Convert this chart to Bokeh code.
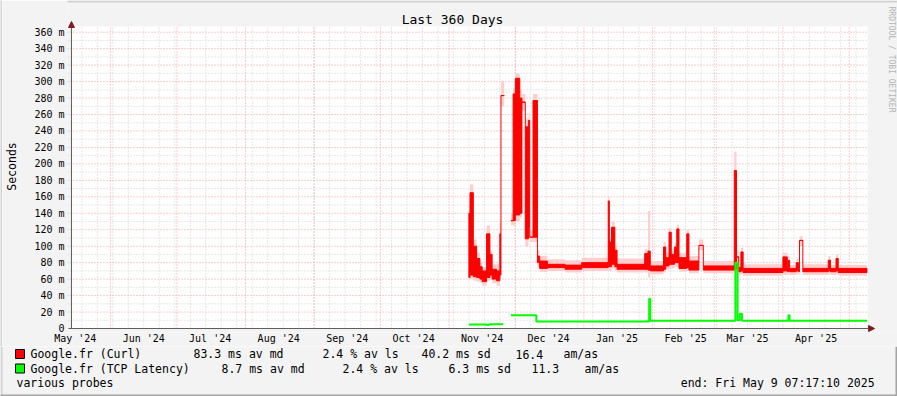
import numpy as np
import pandas as pd
from bokeh.plotting import figure
from bokeh.layouts import column, row
from bokeh.models import (Range1d, FixedTicker, Label, BoxAnnotation, Arrow, NormalHead,
                          DatetimeTickFormatter)
from bokeh.embed import file_html
from bokeh.resources import INLINE

FONT = "DejaVu Sans Mono"

# ---------------- data ----------------
graph_start = "2024-05-14 07:17:10"
graph_end = "2025-05-09 07:17:10"

y_ticks = list(range(0, 361, 20))
y_tick_labels = ["0"] + [f"{v} m" for v in range(20, 361, 20)]

# Google.fr (Curl): segment boundaries, median envelope (lo/hi) and smoke range (ms)
curl_t = ["2024-11-10 00:00", "2024-11-10 12:00", "2024-11-12 00:00", "2024-11-13 12:00",
          "2024-11-15 00:00", "2024-11-16 00:00", "2024-11-18 00:00", "2024-11-19 12:00",
          "2024-11-20 12:00", "2024-11-22 12:00", "2024-11-24 00:00", "2024-11-24 12:00",
          "2024-11-26 00:00", "2024-11-29 00:00", "2024-11-30 00:00", "2024-12-01 00:00",
          "2024-12-03 00:00", "2024-12-04 00:00", "2024-12-05 12:00", "2024-12-07 00:00",
          "2024-12-07 12:00", "2024-12-09 00:00", "2024-12-11 00:00", "2024-12-12 00:00",
          "2024-12-15 12:00", "2024-12-23 12:00", "2024-12-31 00:00", "2025-01-12 00:00",
          "2025-01-12 12:00", "2025-01-13 12:00", "2025-01-15 00:00", "2025-01-16 00:00",
          "2025-01-28 12:00", "2025-01-30 00:00", "2025-01-31 00:00", "2025-02-06 00:00",
          "2025-02-07 00:00", "2025-02-08 12:00", "2025-02-09 12:00", "2025-02-11 00:00",
          "2025-02-12 00:00", "2025-02-13 00:00", "2025-02-16 12:00", "2025-02-17 12:00",
          "2025-02-22 00:00", "2025-02-24 00:00", "2025-03-10 00:00", "2025-03-11 00:00",
          "2025-03-12 00:00", "2025-03-13 00:00", "2025-03-14 00:00", "2025-04-01 00:00",
          "2025-04-03 00:00", "2025-04-03 12:00", "2025-04-04 00:00", "2025-04-07 00:00",
          "2025-04-08 00:00", "2025-04-08 12:00", "2025-04-10 00:00", "2025-04-21 12:00",
          "2025-04-22 12:00", "2025-04-25 00:00", "2025-04-26 00:00", "2025-05-09 00:00"]
nan = float("nan")
curl_lo = [62, 65, 63, 62, 60, 57, 62, 65, 60, 58, 65, 283, nan, 131, 131, 138, 140, 275,
           109, 123, 111, 111, 80, 73, 74, 72, 74, 75, 75, 78, 75, 72, 72, 71, 70, 72, 76,
           78, 78, 80, 80, 73, 74, 71, 101, 71, 72, 87, 69, 70, 68, 70, 69, 70, 69, 70, 69,
           107, 69, 70, 69, 70, 68]
curl_hi = [140, 165, 100, 85, 75, 70, 115, 90, 72, 70, 115, 283, nan, 131, 285, 304, 280, 275,
           245, 253, 111, 277, 88, 82, 78, 77, 80, 155, 105, 123, 95, 78, 91, 94, 76, 99, 86,
           117, 90, 99, 121, 86, 115, 82, 101, 76, 192, 87, 74, 93, 73, 87, 73, 83, 73, 80, 73,
           107, 73, 83, 73, 85, 73]
smoke_lo = [58, 60, 58, 57, 55, 52, 58, 60, 55, 52, 60, 270, nan, 125, 125, 130, 135, 265,
            100, 115, 105, 105, 75, 69, 70, 68, 70, 70, 70, 72, 70, 68, 68, 62, 66, 68, 72,
            72, 73, 75, 75, 69, 70, 67, 95, 67, 68, 80, 65, 66, 64, 65, 65, 66, 65, 66, 65,
            100, 65, 66, 65, 66, 64]
smoke_hi = [150, 175, 108, 92, 80, 75, 125, 95, 78, 78, 130, 300, nan, 140, 292, 310, 290, 285,
            255, 262, 120, 285, 95, 88, 84, 83, 86, 160, 110, 130, 100, 85, 96, 143, 82, 105, 92,
            122, 96, 104, 126, 92, 120, 88, 108, 82, 215, 95, 79, 98, 78, 92, 77, 88, 77, 84, 77,
            112, 78, 88, 77, 90, 77]

# Google.fr (TCP Latency): segment boundaries and median (ms)
tcp_t = ["2024-11-10 00:00", "2024-11-18 00:00", "2024-11-19 00:00", "2024-11-25 12:00",
         "2024-11-29 00:00", "2024-12-10 12:00", "2025-01-30 12:00", "2025-01-31 00:00",
         "2025-03-10 12:00", "2025-03-11 12:00", "2025-03-12 12:00", "2025-03-13 12:00",
         "2025-04-03 12:00", "2025-04-04 00:00", "2025-05-09 00:00"]
tcp_ms = [5.0, 4.2, 5.2, nan, 16.0, 8.5, 36.0, 9.5, 80.0, 10.0, 18.0, 9.5, 16.0, 9.5]

legend_names = ["Google.fr (Curl)", "Google.fr (TCP Latency)"]
legend_colors = ["#FF0000", "#00FF00"]
legend_median = ["83.3 ms av md", "8.7 ms av md"]
legend_loss = ["2.4 % av ls", "2.4 % av ls"]
legend_sd = ["40.2 ms sd", "6.3 ms sd"]
legend_amas = ["16.4", "11.3"]
legend_unit = ["am/as", "am/as"]
title_text = "Last 360 Days"
y_label = "Seconds"
watermark = "RRDTOOL / TOBI OETIKER"
footer_left = "various probes"
footer_right = "end: Fri May  9 07:17:10 2025"


def ms(v):
    single = isinstance(v, str)
    idx = pd.to_datetime(pd.Index([v] if single else v))
    out = ((idx - pd.Timestamp(0)) / pd.Timedelta(milliseconds=1)).to_numpy(dtype=float)
    return float(out[0]) if single else out


# ---------------- layout ----------------
W, H1, H2, EDGE = 897, 346, 50, 2
PL, PR, PT, PB = 67, 867, 26, 328      # plot area in canvas pixels
FL, FB = 63, 332                        # frame left / bottom (frame reaches top & right edge)
K = (PB - 31.7) / 360.0                 # px per ms
T0, T1 = ms(graph_start), ms(graph_end)
MSPX = (T1 - T0) / (PR - PL)            # ms of time per px
BG, LIGHT, DARK = "#F3F3F3", "#D2D2D2", "#A4A4A4"


def xd(px):
    return T0 + (px - PL) * MSPX


def yd(py):
    return (PB - py) / K


def sx(px):
    return px - FL


def sy(py):
    return FB - py


p = figure(width=W - EDGE, height=H1, x_axis_type="datetime",
           x_range=Range1d(xd(FL), xd(W)), y_range=Range1d(yd(FB), yd(0)),
           output_backend="svg", toolbar_location=None,
           min_border_left=FL - EDGE, min_border_right=0, min_border_top=0,
           min_border_bottom=H1 - FB,
           background_fill_color=BG, border_fill_color=BG, outline_line_color=None)
p.frame_align = False
p.title.visible = False
p.xgrid.visible = False
p.ygrid.visible = False

# white plot area
p.quad(left=[T0], right=[T1], bottom=[0], top=[yd(PT)], fill_color="white", line_color=None)

# grid lines
weeks = ms(pd.date_range("2024-05-19", "2025-05-09", freq="7D"))
months = ms(pd.date_range("2024-06-01", "2025-05-01", freq="MS"))
mid_months = ms(pd.date_range("2024-05-01", "2025-04-01", freq="MS") + pd.Timedelta(days=15))
minor_col, major_col = "#D0D0D0", "#EFA0A0"
minor_y = list(range(10, 361, 20))
p.segment(x0=weeks, y0=0, x1=weeks, y1=yd(PT), line_color=minor_col, line_dash="1 2")
p.segment(x0=xd(FL), y0=minor_y, x1=T1, y1=minor_y, line_color=minor_col, line_dash="1 2")
p.segment(x0=months, y0=0, x1=months, y1=yd(PT), line_color=major_col, line_dash="1 2")
p.segment(x0=xd(FL), y0=y_ticks[1:], x1=T1, y1=y_ticks[1:], line_color=major_col,
          line_dash="1 2")

# axes (labels only; lines drawn with arrows)
p.yaxis.ticker = FixedTicker(ticks=y_ticks)
p.yaxis.major_label_overrides = dict(zip(y_ticks, y_tick_labels))
p.yaxis.bounds = (0, yd(PT))
p.yaxis.axis_label = y_label
p.yaxis.axis_label_text_font = FONT
p.yaxis.axis_label_text_font_size = "11.5px"
p.yaxis.axis_label_text_font_style = "normal"
p.yaxis.axis_label_text_color = "#000000"
p.yaxis.axis_label_standoff = 12
p.yaxis.major_label_standoff = 3
p.xaxis.ticker = FixedTicker(ticks=list(mid_months))
fmt = "%b '%y"
p.xaxis.formatter = DatetimeTickFormatter(milliseconds=fmt, seconds=fmt, minsec=fmt, minutes=fmt,
                                          hourmin=fmt, hours=fmt, days=fmt, months=fmt, years=fmt)
p.xaxis.major_label_standoff = 0
for ax in (p.xaxis, p.yaxis):
    ax.axis_line_color = None
    ax.major_tick_line_color = None
    ax.minor_tick_line_color = None
    ax.major_tick_out = 0
    ax.major_tick_in = 0
    ax.major_label_text_font = FONT
    ax.major_label_text_font_size = "10px"
    ax.major_label_text_color = "#000000"

# smoke + curl median envelope
t0 = ms(curl_t[:-1])
t1 = ms(curl_t[1:])
p.quad(left=t0, right=t1, bottom=smoke_lo, top=smoke_hi, fill_color="#FFCFCF", line_color=None)
p.quad(left=t0, right=t1, bottom=curl_lo, top=curl_hi,
       fill_color="#FF0000", line_color="#FF0000", line_width=1)
cx, cy0, cy1 = [], [], []
for i in range(len(curl_lo) - 1):
    a_lo, a_hi, b_lo, b_hi = curl_lo[i], curl_hi[i], curl_lo[i + 1], curl_hi[i + 1]
    if np.isnan(a_lo) or np.isnan(b_lo):
        continue
    if a_hi < b_lo:
        cx.append(t1[i]); cy0.append(a_hi); cy1.append(b_lo)
    elif a_lo > b_hi:
        cx.append(t1[i]); cy0.append(b_hi); cy1.append(a_lo)
p.segment(x0=cx, y0=cy0, x1=cx, y1=cy1, line_color="#FF0000", line_width=1)

# tcp latency step line
g0 = ms(tcp_t[:-1])
g1 = ms(tcp_t[1:])
runs_x, runs_y, cur_x, cur_y = [], [], [], []
for a, b, v in zip(g0, g1, tcp_ms):
    if np.isnan(v):
        if cur_x:
            runs_x.append(cur_x); runs_y.append(cur_y)
        cur_x, cur_y = [], []
        continue
    cur_x += [a, b]
    cur_y += [v, v]
if cur_x:
    runs_x.append(cur_x); runs_y.append(cur_y)
p.multi_line(xs=runs_x, ys=runs_y, line_color="#00FF00", line_width=2)

# axis lines with arrow heads
axis_col, arrow_col = "#5E5E5E", "#7F1C1C"
p.add_layout(Arrow(x_start=T0, y_start=yd(PB), x_end=T0, y_end=yd(21),
                   line_color=axis_col, line_width=1,
                   end=NormalHead(size=6, fill_color=arrow_col, line_color=arrow_col)))
p.add_layout(Arrow(x_start=xd(PL - 3), y_start=0, x_end=xd(874), y_end=0,
                   line_color=axis_col, line_width=1,
                   end=NormalHead(size=6, fill_color=arrow_col, line_color=arrow_col)))


def label(fig, text, x, y, size="11.5px", align="left", angle=0.0, color="#000000"):
    fig.add_layout(Label(x=x, y=y, x_units="screen", y_units="screen", text=text,
                         text_font=FONT, text_font_size=size, text_align=align,
                         text_baseline="middle", angle=angle, text_color=color))


def box(fig, l, r, b, t, color, line=None):
    fig.add_layout(BoxAnnotation(left=l, right=r, bottom=b, top=t,
                                 left_units="screen", right_units="screen",
                                 top_units="screen", bottom_units="screen",
                                 fill_color=color, fill_alpha=1.0,
                                 line_color=line, line_width=1, line_alpha=1.0))


label(p, title_text, sx(448), sy(19), size="13px", align="center")
label(p, watermark, sx(887), sy(59), size="8px", align="center", angle=-np.pi / 2,
      color="#B4B4B4")
box(p, sx(0), sx(W), sy(EDGE), sy(0), LIGHT)
box(p, sx(W - EDGE), sx(W), sy(H1), sy(EDGE), DARK)

# thin left edge strip
e = figure(width=EDGE, height=H1, x_range=Range1d(0, 1), y_range=Range1d(0, 1),
           output_backend="svg", toolbar_location=None, min_border=0,
           x_axis_location=None, y_axis_location=None,
           background_fill_color=LIGHT, border_fill_color=LIGHT, outline_line_color=None)
e.frame_align = False
e.xgrid.visible = False
e.ygrid.visible = False

# ---------------- legend area ----------------
q = figure(width=W, height=H2, x_range=Range1d(0, W), y_range=Range1d(0, H2),
           output_backend="svg", toolbar_location=None, min_border=0,
           x_axis_location=None, y_axis_location=None,
           background_fill_color=BG, border_fill_color=BG, outline_line_color=None)
q.frame_align = False
q.xgrid.visible = False
q.ygrid.visible = False


def qy(py):
    return H1 + H2 - py


rows_y = [353.5, 368]
cols = [[30, 193, 322, 421, 515, 563], [30, 221, 342, 448, 531, 584]]
for i in range(2):
    yy = rows_y[i]
    box(q, 15, 24, qy(yy + 4.5), qy(yy - 4.5), legend_colors[i], line="#000000")
    texts = [legend_names[i], legend_median[i], legend_loss[i], legend_sd[i],
             legend_amas[i], legend_unit[i]]
    for t, cxp in zip(texts, cols[i]):
        label(q, t, cxp, qy(yy))
label(q, footer_left, 16, qy(382))
label(q, footer_right, 881, qy(382), align="right")
box(q, 0, EDGE, 0, H2, LIGHT)
box(q, 0, W, 0, EDGE, DARK)
box(q, W - EDGE, W, 0, H2, DARK)

layout = column(row(e, p, spacing=0), q, spacing=0)
open("out.html", "w").write(file_html(layout, INLINE))
